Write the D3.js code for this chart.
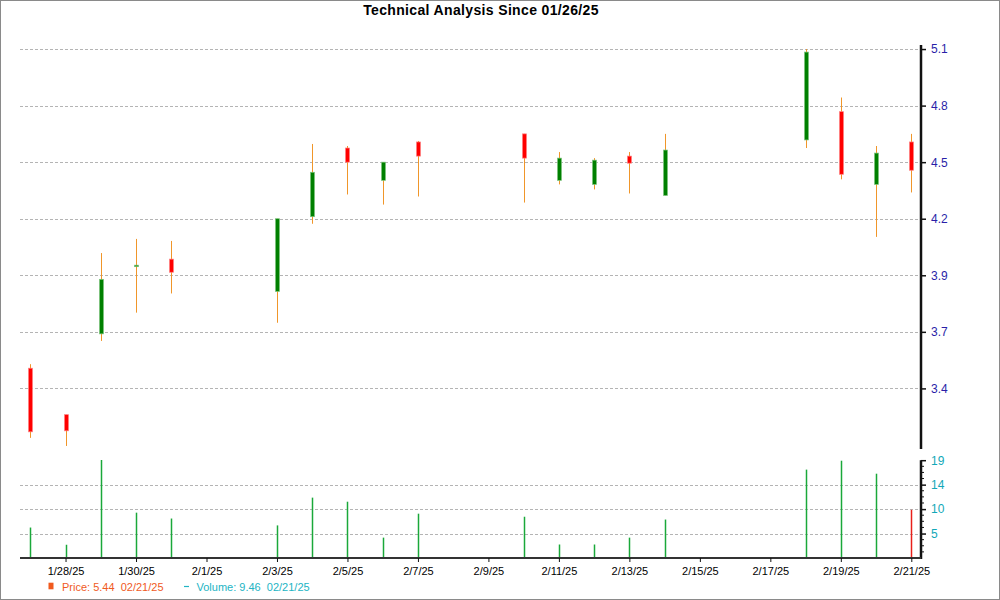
<!DOCTYPE html>
<html>
<head>
<meta charset="utf-8">
<script src="https://cdn.jsdelivr.net/npm/d3@7"></script>
<style>
  html, body { margin: 0; padding: 0; background: #fff; }
  svg { display: block; font-family: "Liberation Sans", Arial, sans-serif; }
</style>
</head>
<body>
<svg id="chart" width="1000" height="600"></svg>
<script>
// ---- data ----
const dates = ["2025-01-27","2025-01-28","2025-01-29","2025-01-30","2025-01-31",
  "2025-02-03","2025-02-04","2025-02-05","2025-02-06","2025-02-07",
  "2025-02-10","2025-02-11","2025-02-12","2025-02-13","2025-02-14",
  "2025-02-18","2025-02-19","2025-02-20","2025-02-21"];
const opens  = [3.48, 3.25, 3.65, 3.985, 4.02, 3.86, 4.23, 4.57, 4.41, 4.60, 4.64, 4.41, 4.39, 4.53, 4.335, 4.61, 4.75, 4.39, 4.60];
const highs  = [3.50, 3.25, 4.05, 4.12, 4.11, 4.22, 4.59, 4.58, 4.50, 4.605, 4.64, 4.55, 4.52, 4.55, 4.64, 5.06, 4.82, 4.58, 4.64];
const lows   = [3.135, 3.095, 3.615, 3.755, 3.85, 3.705, 4.195, 4.34, 4.29, 4.33, 4.30, 4.39, 4.365, 4.345, 4.335, 4.57, 4.415, 4.13, 4.35];
const closes = [3.165, 3.17, 3.92, 3.99, 3.955, 4.22, 4.45, 4.50, 4.50, 4.53, 4.52, 4.52, 4.51, 4.495, 4.56, 5.045, 4.44, 4.545, 4.46];
const volumes = [5.98, 2.6, 19.24, 8.9, 7.75, 6.4, 11.85, 11.05, 4.0, 8.7, 8.1, 2.65, 2.65, 4.0, 7.55, 17.35, 19.1, 16.55, 9.46];
const xTickDates = ["2025-01-28","2025-01-30","2025-02-01","2025-02-03","2025-02-05","2025-02-07","2025-02-09",
  "2025-02-11","2025-02-13","2025-02-15","2025-02-17","2025-02-19","2025-02-21"];
const priceTicks = [3.38, 3.66, 3.94, 4.22, 4.50, 4.78, 5.06];
const volumeTicks = [4.8, 9.6, 14.4, 19.2];
const titleText = "Technical Analysis Since 01/26/25";
const legendPrice = "Price: 5.44  02/21/25";
const legendVolume = "Volume: 9.46  02/21/25";

// ---- setup ----
const parse = d3.timeParse("%Y-%m-%d");
const fmtDate = d3.timeFormat("%-m/%-d/%y");
const svg = d3.select("#chart");
const left = 20, right = 921;

const x = d3.scaleTime()
  .domain([parse(dates[0]), parse(dates[dates.length - 1])])
  .range([30.3, 911.3]);
const yP = d3.scaleLinear().domain([3.08, 5.08]).range([449, 45]);
const yV = d3.scaleLinear().domain([0, 19.2]).range([558, 460.2]);

// frame
svg.append("rect").attr("x", 0.5).attr("y", 0.5).attr("width", 999).attr("height", 599)
  .attr("fill", "none").attr("stroke", "#8a8a8a").attr("stroke-width", 1);

// title
svg.append("text").attr("x", 481).attr("y", 15).attr("text-anchor", "middle")
  .attr("font-size", 14).attr("letter-spacing", 0.35).attr("font-weight", "bold").attr("fill", "#000").text(titleText);

// gridlines
svg.append("g").selectAll("line").data(priceTicks).join("line")
  .attr("x1", left).attr("x2", right)
  .attr("y1", d => Math.round(yP(d)) + 0.5).attr("y2", d => Math.round(yP(d)) + 0.5)
  .attr("stroke", "#b4b4b4").attr("stroke-dasharray", "3,2");
svg.append("g").selectAll("line").data(volumeTicks.slice(0, 3)).join("line")
  .attr("x1", left).attr("x2", right)
  .attr("y1", d => Math.round(yV(d)) + 0.5).attr("y2", d => Math.round(yV(d)) + 0.5)
  .attr("stroke", "#b4b4b4").attr("stroke-dasharray", "3,2");

// candles
const rows = dates.map((d, i) => ({ date: parse(d), o: opens[i], h: highs[i], l: lows[i], c: closes[i], v: volumes[i], i }));
const cg = svg.append("g");
cg.selectAll("line.wick").data(rows).join("line").attr("class", "wick")
  .attr("x1", d => Math.round(x(d.date)) + 0.5).attr("x2", d => Math.round(x(d.date)) + 0.5)
  .attr("y1", d => yP(d.h)).attr("y2", d => yP(d.l))
  .attr("stroke", "#f0962a").attr("stroke-width", 1);
cg.selectAll("rect.body").data(rows).join("rect").attr("class", "body")
  .attr("x", d => Math.round(x(d.date)) - 1.5).attr("width", 4)
  .attr("y", d => yP(Math.max(d.o, d.c)))
  .attr("height", d => Math.max(1.5, Math.abs(yP(d.o) - yP(d.c))))
  .attr("fill", d => d.c >= d.o ? "#008000" : "#ff0000")
  .attr("stroke", d => d.c >= d.o ? "#7cc47c" : "#ff8080")
  .attr("stroke-width", 0.7);

// volume bars
svg.append("g").selectAll("line").data(rows).join("line")
  .attr("x1", d => Math.round(x(d.date)) + 0.5).attr("x2", d => Math.round(x(d.date)) + 0.5)
  .attr("y1", yV(0)).attr("y2", d => yV(d.v))
  .attr("stroke", d => d.i === rows.length - 1 ? "#e8201a" : "#1aa83a")
  .attr("stroke-width", 1.5);

// price axis (right)
const pAxis = svg.append("g").attr("transform", `translate(${right},0)`)
  .call(d3.axisRight(yP).tickValues(priceTicks).tickFormat(d3.format(".1f")).tickSize(5).tickPadding(5));
pAxis.select(".domain").attr("stroke", "#111").attr("stroke-width", 2.5).attr("d", `M0,${yP.range()[1]}V${yP.range()[0]}`);
pAxis.selectAll(".tick line").attr("stroke", "#111").attr("stroke-width", 1.5);
pAxis.selectAll(".tick text").attr("fill", "#2a1fa8").attr("font-size", 12)
  .attr("font-family", "'Liberation Sans', Arial, sans-serif");

// volume axis (right)
const minorV = d3.range(1, 17).map(k => k * 1.2).filter(v => !volumeTicks.some(t => Math.abs(t - v) < 1e-6));
svg.append("g").selectAll("line").data(minorV).join("line")
  .attr("x1", right).attr("x2", right + 3)
  .attr("y1", d => yV(d)).attr("y2", d => yV(d))
  .attr("stroke", "#111").attr("stroke-width", 1);
const vAxis = svg.append("g").attr("transform", `translate(${right},0)`)
  .call(d3.axisRight(yV).tickValues(volumeTicks).tickFormat(d3.format(".0f")).tickSize(5).tickPadding(5));
vAxis.select(".domain").attr("stroke", "#111").attr("stroke-width", 2.5).attr("d", `M0,${yV.range()[1]}V${yV.range()[0] + 1}`);
vAxis.selectAll(".tick line").attr("stroke", "#111").attr("stroke-width", 1.5);
vAxis.selectAll(".tick text").attr("fill", "#12a8b8").attr("font-size", 12)
  .attr("font-family", "'Liberation Sans', Arial, sans-serif");

// x axis (bottom)
const xAxis = svg.append("g").attr("transform", `translate(0,${yV(0)})`)
  .call(d3.axisBottom(x).tickValues(xTickDates.map(parse)).tickFormat(fmtDate).tickSize(4).tickPadding(5));
xAxis.select(".domain").attr("stroke", "#333").attr("stroke-width", 2).attr("d", `M${left},0H${right}`);
xAxis.selectAll(".tick line").attr("stroke", "#111");
xAxis.selectAll(".tick text").attr("fill", "#000").attr("font-size", 11)
  .attr("font-family", "'Liberation Sans', Arial, sans-serif");

// legend
const lg = svg.append("g").attr("font-size", 11).style("white-space", "pre");
lg.append("rect").attr("x", 48.5).attr("y", 582.7).attr("width", 5).attr("height", 6.6).attr("fill", "#f05a1e");
lg.append("text").attr("x", 62).attr("y", 591).attr("fill", "#f05a1e").attr("xml:space", "preserve").text(legendPrice);
lg.append("line").attr("x1", 184).attr("x2", 189).attr("y1", 586.5).attr("y2", 586.5).attr("stroke", "#22b4c4").attr("stroke-width", 1.2);
lg.append("text").attr("x", 196.5).attr("y", 591).attr("fill", "#22b4c4").attr("xml:space", "preserve").text(legendVolume);
</script>
</body>
</html>
